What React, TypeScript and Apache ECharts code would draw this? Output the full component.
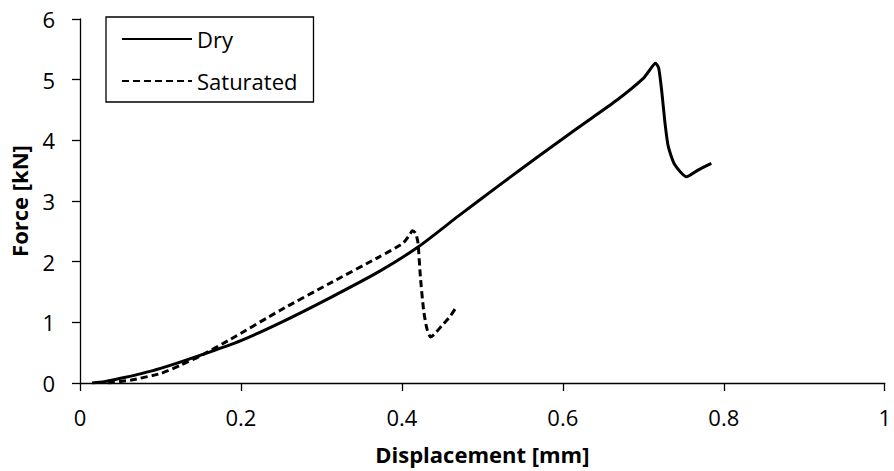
import React, { useEffect, useRef } from "react";
import * as echarts from "echarts";

const dryX = [0.015, 0.03, 0.055, 0.075, 0.1, 0.15, 0.2, 0.25, 0.31, 0.372, 0.421, 0.47, 0.52, 0.569, 0.618, 0.667, 0.7, 0.708, 0.715, 0.719, 0.723, 0.727, 0.731, 0.739, 0.7537, 0.768, 0.7845];
const dryY = [0.0, 0.02, 0.09, 0.15, 0.24, 0.46, 0.7, 1.0, 1.4, 1.84, 2.25, 2.75, 3.25, 3.73, 4.2, 4.66, 5.02, 5.16, 5.27, 5.2, 4.8, 4.28, 3.9, 3.6, 3.4, 3.51, 3.62];

const satX = [0.035, 0.064, 0.101, 0.126, 0.15, 0.187, 0.249, 0.31, 0.372, 0.401, 0.41, 0.413, 0.417, 0.42, 0.423, 0.427, 0.431, 0.4356, 0.44, 0.45, 0.46, 0.468];
const satY = [0.0, 0.05, 0.16, 0.3, 0.45, 0.72, 1.2, 1.64, 2.08, 2.3, 2.45, 2.51, 2.47, 2.31, 1.75, 1.2, 0.9, 0.76, 0.8, 0.95, 1.1, 1.26];

const xTicks = [0, 0.2, 0.4, 0.6, 0.8, 1];
const yTicks = [0, 1, 2, 3, 4, 5, 6];

const FONT = "Open Sans";
const FS = 22;

export default function App() {
  const ref = useRef<HTMLDivElement>(null);
  useEffect(() => {
    const chart = echarts.init(ref.current!, null, { renderer: "svg" });
    const axisLine = { show: true, lineStyle: { color: "#000", width: 1.3 } };
    chart.setOption({
      animation: false,
      backgroundColor: "#fff",
      grid: { left: 78, right: 4, top: 19, bottom: 88, containLabel: false },
      legend: {
        orient: "vertical",
        left: 106,
        top: 17,
        padding: [11, 16, 10, 15],
        itemWidth: 70,
        itemHeight: 14,
        itemGap: 20,
        borderColor: "#000",
        borderWidth: 1.3,
        itemStyle: { opacity: 0 },
        textStyle: { fontFamily: FONT, fontSize: FS, color: "#000" },
        data: ["Dry", "Saturated"],
      },
      xAxis: {
        type: "value",
        min: 0,
        max: 1,
        interval: 0.2,
        name: "Displacement [mm]",
        nameLocation: "middle",
        nameGap: 60,
        nameTextStyle: { fontFamily: FONT, fontSize: FS, fontWeight: "bold", color: "#000" },
        axisLine,
        axisTick: { show: true, inside: false, length: 8, lineStyle: { color: "#000", width: 1.3 } },
        axisLabel: {
          margin: 23,
          fontFamily: FONT,
          fontSize: FS,
          color: "#000",
          formatter: (v: number) => (xTicks.includes(Math.round(v * 10) / 10) ? String(Math.round(v * 10) / 10) : ""),
        },
        splitLine: { show: false },
      },
      yAxis: {
        type: "value",
        min: 0,
        max: 6,
        interval: 1,
        name: "Force [kN]",
        nameLocation: "middle",
        nameGap: 50,
        nameTextStyle: { fontFamily: FONT, fontSize: FS, fontWeight: "bold", color: "#000" },
        axisLine,
        axisTick: { show: true, inside: false, length: 8, lineStyle: { color: "#000", width: 1.3 } },
        axisLabel: {
          margin: 25,
          fontFamily: FONT,
          fontSize: FS,
          color: "#000",
          formatter: (v: number) => (yTicks.includes(v) ? String(v) : ""),
        },
        splitLine: { show: false },
      },
      series: [
        {
          name: "Dry",
          type: "line",
          data: dryX.map((x, i) => [x, dryY[i]]),
          smooth: 0.2,
          symbol: "none",
          lineStyle: { color: "#000", width: 3, type: "solid" },
          itemStyle: { color: "#000" },
        },
        {
          name: "Saturated",
          type: "line",
          data: satX.map((x, i) => [x, satY[i]]),
          smooth: 0.2,
          symbol: "none",
          lineStyle: { color: "#000", width: 3, type: [7, 4] },
          itemStyle: { color: "#000" },
        },
      ],
    });
    return () => chart.dispose();
  }, []);
  return <div ref={ref} style={{ width: 894, height: 471, position: "absolute", left: 0, top: 0 }} />;
}
